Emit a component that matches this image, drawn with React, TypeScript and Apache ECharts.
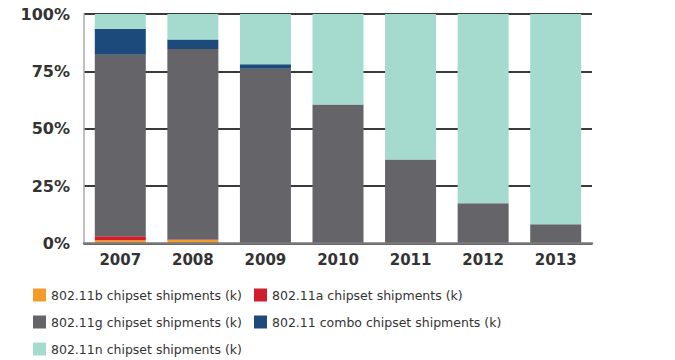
import React, { useEffect, useRef } from "react";
import * as echarts from "echarts";

const years = ["2007", "2008", "2009", "2010", "2011", "2012", "2013"];
const seriesNames = [
  "802.11b chipset shipments (k)",
  "802.11a chipset shipments (k)",
  "802.11g chipset shipments (k)",
  "802.11 combo chipset shipments (k)",
  "802.11n chipset shipments (k)",
];
const b11 = [1.4, 1.5, 0.2, 0, 0, 0, 0];
const a11 = [1.8, 0.2, 0, 0, 0, 0, 0];
const g11 = [79.0, 83.0, 75.9, 60.6, 36.6, 17.5, 8.4];
const combo11 = [11.4, 4.2, 2.0, 0, 0, 0, 0];
const n11 = [6.4, 11.1, 21.9, 39.4, 63.4, 82.5, 91.6];
const yTicks = [0, 25, 50, 75, 100];
const colors = ["#f39c2a", "#cf1f2e", "#646469", "#1c4a7a", "#a5dacf"];

const legendPos = [
  { left: 33, top: 288.5 },
  { left: 254, top: 288.5 },
  { left: 33, top: 315.5 },
  { left: 254, top: 315.5 },
  { left: 33, top: 342.5 },
];

export default function App() {
  const ref = useRef<HTMLDivElement>(null);
  useEffect(() => {
    if (!ref.current) return;
    const chart = echarts.init(ref.current, null, { renderer: "svg" });
    const data = [b11, a11, g11, combo11, n11];
    chart.setOption({
      animation: false,
      color: colors,
      textStyle: { fontFamily: "DejaVu Sans" },
      grid: { left: 84, right: 83, top: 14, bottom: 116.5 },
      legend: seriesNames.map((name, i) => ({
        data: [name],
        left: legendPos[i].left,
        top: legendPos[i].top,
        padding: 0,
        itemWidth: 13,
        itemHeight: 13,
        itemGap: 6,
        icon: "rect",
        textStyle: { fontSize: 12.5, color: "#333", fontFamily: "DejaVu Sans" },
      })),
      xAxis: {
        type: "category",
        data: years,
        z: 3,
        axisLine: { show: true, lineStyle: { color: "#7a7a7a", width: 2.5 } },
        axisTick: { show: false },
        axisLabel: {
          fontSize: 15,
          fontWeight: "bold",
          color: "#333",
          margin: 9,
        },
      },
      yAxis: {
        type: "value",
        min: yTicks[0],
        max: yTicks[yTicks.length - 1],
        interval: 25,
        axisLine: { show: true, lineStyle: { color: "#aaa", width: 1.5 } },
        axisTick: { show: false },
        splitLine: { show: true, lineStyle: { color: "#3a3a3a", width: 2 } },
        axisLabel: {
          formatter: "{value}%",
          fontSize: 16,
          fontWeight: "bold",
          color: "#333",
          margin: 14,
        },
      },
      series: seriesNames.map((name, i) => ({
        name,
        type: "bar",
        stack: "total",
        barWidth: 51,
        data: data[i],
        itemStyle: { color: colors[i] },
      })),
    });
    return () => chart.dispose();
  }, []);
  return <div ref={ref} style={{ width: 675, height: 360, position: "absolute", left: 0, top: 0 }} />;
}
